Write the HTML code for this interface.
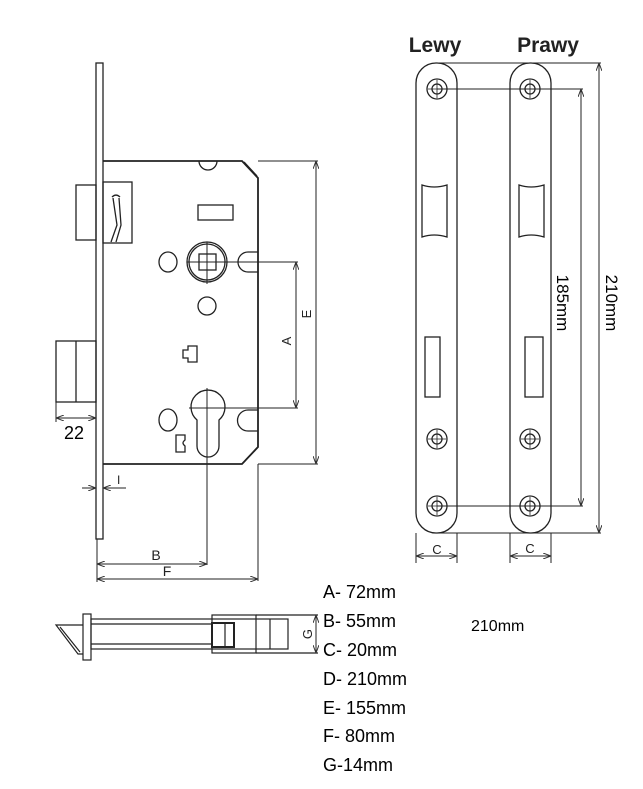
<!DOCTYPE html>
<html><head><meta charset="utf-8"><style>
html,body{margin:0;padding:0;background:#fff;}
svg{display:block;}
text{font-family:"Liberation Sans",sans-serif;}
</style></head><body>
<svg width="643" height="789" viewBox="0 0 643 789" xmlns="http://www.w3.org/2000/svg">
<defs>
<marker id="ar" markerWidth="8" markerHeight="6" refX="8" refY="3" orient="auto-start-reverse" markerUnits="userSpaceOnUse"><path d="M0,0 L8,3 L0,6" fill="none" stroke="#333" stroke-width="1"/></marker>
</defs>
<g fill="none" stroke="#222" stroke-width="1.3">
<!-- faceplate -->
<rect x="96" y="63" width="7" height="476"/>
<!-- body -->
<path d="M103,161 H242 L258,178 V447 L242,464 H103" stroke-width="1.8"/>
<line x1="244" y1="162" x2="257" y2="176"/>
<line x1="243" y1="463" x2="256" y2="449"/>
<!-- top notch -->
<path d="M199,161 A9,9 0 0 0 217,161"/>
<!-- slot rect -->
<rect x="198" y="205" width="35" height="15"/>
<!-- latch -->
<rect x="76" y="185" width="20" height="55"/>
<rect x="103" y="182" width="29" height="61"/>
<path d="M113,198 L117,225 L111,242 M119,198 L121,225 L116,242 M112,197 Q116,193 120,197"/>
<!-- spindle -->
<circle cx="207" cy="262" r="20"/>
<circle cx="207" cy="262" r="18"/>
<rect x="199" y="254" width="17" height="16"/>
<ellipse cx="168" cy="262" rx="9" ry="10"/>
<path d="M258,252 H248 A10,10 0 0 0 248,272 H258"/>
<circle cx="207" cy="306" r="9"/>
<!-- T -->
<path d="M183,350 H188 V346 H197 V362 H188 V358 H183 Z"/>
<!-- cylinder -->
<path d="M197,420 A17,17 0 1 1 219,420 V446 A11,11 0 0 1 197,446 Z"/>
<ellipse cx="168" cy="420" rx="9" ry="11"/>
<path d="M258,410 H248 A10,10 0 0 0 248,431 H258"/>
<path d="M176,435 H185 V440 Q181,443 185,446 V452 H176 Z"/>
<!-- deadbolt -->
<rect x="56" y="341" width="40" height="61"/>
<line x1="76" y1="341" x2="76" y2="402"/>
</g>
<g fill="none" stroke="#222" stroke-width="1">
<!-- center lines -->
<line x1="187" y1="262" x2="298" y2="262"/>
<line x1="207" y1="242" x2="207" y2="284"/>
<line x1="189" y1="408" x2="298" y2="408"/>
<line x1="207" y1="388" x2="207" y2="565"/>
<line x1="258" y1="464" x2="258" y2="581"/>
<line x1="258" y1="161" x2="318" y2="161"/>
<line x1="258" y1="464" x2="318" y2="464"/>
<line x1="296" y1="262" x2="296" y2="408" marker-start="url(#ar)" marker-end="url(#ar)"/>
<line x1="316" y1="161" x2="316" y2="464" marker-start="url(#ar)" marker-end="url(#ar)"/>
<line x1="56" y1="402" x2="56" y2="422"/>
<line x1="56" y1="418" x2="96" y2="418" marker-start="url(#ar)" marker-end="url(#ar)"/>
<line x1="82" y1="488" x2="96" y2="488" marker-end="url(#ar)"/>
<line x1="103" y1="488" x2="126" y2="488" marker-start="url(#ar)"/>
<line x1="97" y1="539" x2="97" y2="582"/>
<line x1="97" y1="564" x2="207" y2="564" marker-start="url(#ar)" marker-end="url(#ar)"/>
<line x1="97" y1="579" x2="258" y2="579" marker-start="url(#ar)" marker-end="url(#ar)"/>
</g>
<g font-size="13" fill="#222">
<text x="291" y="341" transform="rotate(-90 291 341)" text-anchor="middle">A</text>
<text x="311" y="314" transform="rotate(-90 311 314)" text-anchor="middle">E</text>
<text x="117" y="484" font-size="12">I</text>
<text x="156" y="560" text-anchor="middle" font-size="14">B</text>
<text x="167" y="576" text-anchor="middle" font-size="14">F</text>
</g>
<text x="64" y="439" font-size="18" fill="#000">22</text>
<!-- side view -->
<g fill="none" stroke="#222" stroke-width="1.2">
<rect x="83" y="614" width="8" height="46"/>
<path d="M83,625 L56,625 L78,654 H83"/>
<line x1="60" y1="627" x2="80" y2="652"/>
<rect x="91" y="619" width="197" height="30"/>
<line x1="91" y1="624" x2="212" y2="624"/>
<line x1="91" y1="644" x2="212" y2="644"/>
<rect x="212" y="615" width="44" height="38"/>
<rect x="212" y="623" width="22" height="24" stroke-width="2"/>
<line x1="225" y1="623" x2="225" y2="647"/>
<line x1="270" y1="619" x2="270" y2="649"/>
<line x1="256" y1="615" x2="318" y2="615"/>
<line x1="256" y1="653" x2="318" y2="653"/>
<line x1="316" y1="615" x2="316" y2="653" stroke-width="1" marker-start="url(#ar)" marker-end="url(#ar)"/>
</g>
<text x="312" y="634" transform="rotate(-90 312 634)" text-anchor="middle" font-size="13" fill="#222">G</text>
<!-- legend -->
<g font-size="18" fill="#000">
<text x="323" y="598">A- 72mm</text>
<text x="323" y="627">B- 55mm</text>
<text x="323" y="656">C- 20mm</text>
<text x="323" y="685">D- 210mm</text>
<text x="323" y="714">E- 155mm</text>
<text x="323" y="742">F- 80mm</text>
<text x="323" y="771">G-14mm</text>
</g>
<text x="471" y="631" font-size="16" fill="#000">210mm</text>
<!-- plates -->
<text x="435" y="52" font-size="21" font-weight="bold" text-anchor="middle" fill="#222">Lewy</text>
<text x="548" y="52" font-size="21" font-weight="bold" text-anchor="middle" fill="#222">Prawy</text>
<g fill="none" stroke="#222" stroke-width="1.3">
<rect x="416" y="63" width="41" height="470" rx="20"/>
<rect x="510" y="63" width="41" height="470" rx="20"/>
<g id="s">
<circle cx="437" cy="89" r="10"/><circle cx="437" cy="89" r="5"/>
<line x1="428" y1="89" x2="446" y2="89" stroke-width="0.8"/><line x1="437" y1="80" x2="437" y2="98" stroke-width="0.8"/>
</g>
<use href="#s" y="350"/><use href="#s" y="417"/>
<use href="#s" x="93"/><use href="#s" x="93" y="350"/><use href="#s" x="93" y="417"/>
<path d="M422,185 Q434,189 447,185 V237 Q434,233 422,237 Z"/>
<rect x="425" y="337" width="15" height="60"/>
<path d="M519,185 Q531,189 544,185 V237 Q531,233 519,237 Z"/>
<rect x="525" y="337" width="18" height="60"/>
</g>
<g fill="none" stroke="#222" stroke-width="1">
<line x1="437" y1="63" x2="601" y2="63"/>
<line x1="437" y1="533" x2="601" y2="533"/>
<line x1="437" y1="89" x2="583" y2="89"/>
<line x1="437" y1="506" x2="583" y2="506"/>
<line x1="581" y1="89" x2="581" y2="506" marker-start="url(#ar)" marker-end="url(#ar)"/>
<line x1="599" y1="63" x2="599" y2="533" marker-start="url(#ar)" marker-end="url(#ar)"/>
<line x1="416" y1="533" x2="416" y2="563"/><line x1="457" y1="533" x2="457" y2="563"/>
<line x1="510" y1="533" x2="510" y2="563"/><line x1="551" y1="533" x2="551" y2="563"/>
<line x1="416" y1="556" x2="457" y2="556" marker-start="url(#ar)" marker-end="url(#ar)"/>
<line x1="510" y1="556" x2="551" y2="556" marker-start="url(#ar)" marker-end="url(#ar)"/>
</g>
<text x="437" y="554" font-size="13" text-anchor="middle" fill="#222">C</text>
<text x="530" y="553" font-size="13" text-anchor="middle" fill="#222">C</text>
<text x="557" y="303" font-size="17" text-anchor="middle" transform="rotate(90 557 303)" fill="#000">185mm</text>
<text x="606" y="303" font-size="17" text-anchor="middle" transform="rotate(90 606 303)" fill="#000">210mm</text>
</svg>
</body></html>
